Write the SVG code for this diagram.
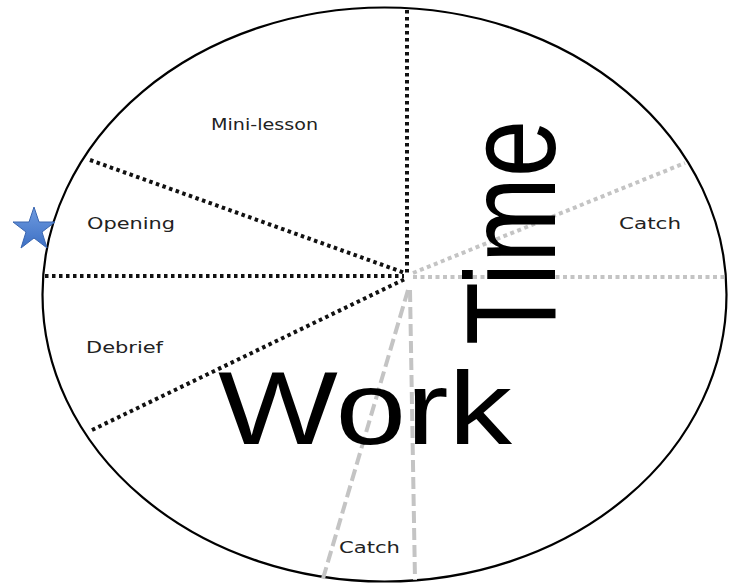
<svg xmlns="http://www.w3.org/2000/svg" width="734" height="584" viewBox="0 0 734 584">
<style>
.lbl{font-family:"DejaVu Sans","Liberation Sans",Arial,sans-serif;font-size:15.5px;fill:#222}
.big{font-family:"Liberation Sans",Arial,sans-serif;fill:#000}
.blk{stroke:#111;stroke-width:4;stroke-dasharray:3.5 3.5;fill:none}
.gry{stroke:#c4c4c4;stroke-width:4;stroke-dasharray:4 3.5;fill:none}
.gdash{stroke:#c4c4c4;stroke-width:4;stroke-dasharray:12 5;fill:none}
</style>
<defs>
<linearGradient id="sg" x1="0" y1="0" x2="0" y2="1">
<stop offset="0" stop-color="#6f9be0"/>
<stop offset="1" stop-color="#3d70c4"/>
</linearGradient>
</defs>
<rect width="734" height="584" fill="#fff"/>
<g id="circle">
<ellipse cx="384.5" cy="294.5" rx="342" ry="287" fill="#fff" stroke="#000" stroke-width="2.2"/>
</g>
<g id="connectors">
<line class="blk" x1="407" y1="10" x2="407" y2="275"/>
<line class="blk" x1="90" y1="160" x2="405" y2="273"/>
<line class="blk" x1="45" y1="276" x2="404" y2="276"/>
<line class="blk" x1="92" y1="430" x2="405" y2="279"/>
<line class="gry" x1="413" y1="273" x2="685" y2="163"/>
<line class="gry" x1="413" y1="277" x2="725" y2="277"/>
<line class="gdash" x1="408" y1="290" x2="322" y2="582"/>
<line class="gdash" x1="410" y1="290" x2="415" y2="580"/>
</g>
<g id="star">
<polygon points="34,207 39,222 55,222 42,232 47,248 34,238 21,248 26,232 13,222 29,222" fill="url(#sg)" stroke="#3a66b0" stroke-width="1"/>
</g>
<g id="mini-lesson"><text class="lbl" x="211" y="130" textLength="107" lengthAdjust="spacingAndGlyphs">Mini-lesson</text></g>
<g id="opening"><text class="lbl" x="87" y="229" textLength="88" lengthAdjust="spacingAndGlyphs">Opening</text></g>
<g id="debrief"><text class="lbl" x="86" y="353" textLength="77" lengthAdjust="spacingAndGlyphs">Debrief</text></g>
<g id="catch-right"><text class="lbl" x="619" y="229" textLength="62" lengthAdjust="spacingAndGlyphs">Catch</text></g>
<g id="catch-bottom"><text class="lbl" x="339" y="553" textLength="61" lengthAdjust="spacingAndGlyphs">Catch</text></g>
<g id="work"><text class="big" x="218" y="444" font-size="104" textLength="294" lengthAdjust="spacingAndGlyphs">Work</text></g>
<g id="time"><text class="big" transform="translate(555,345) rotate(-90)" x="0" y="0" font-size="128" textLength="225" lengthAdjust="spacingAndGlyphs">Time</text></g>
</svg>
